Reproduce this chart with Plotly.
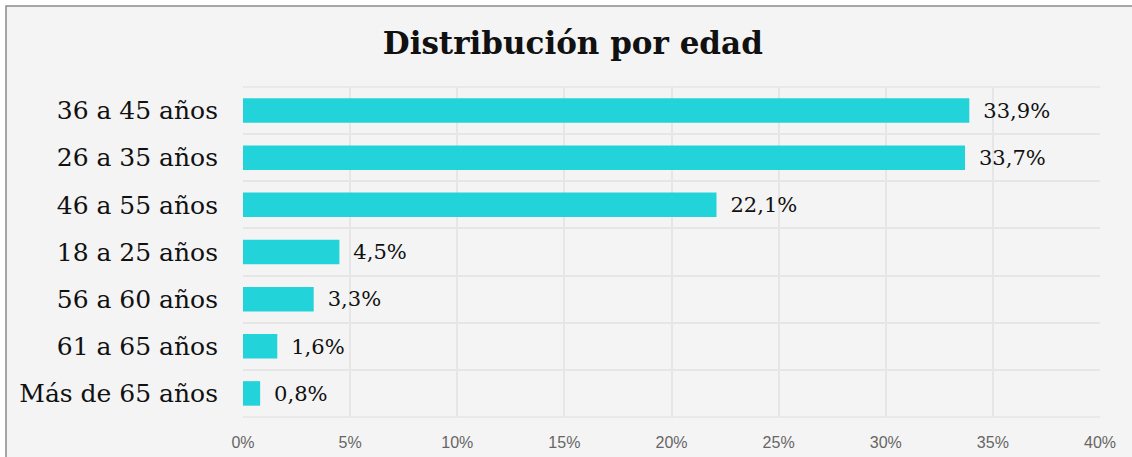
import plotly.graph_objects as go

categories = ["36 a 45 años", "26 a 35 años", "46 a 55 años", "18 a 25 años",
              "56 a 60 años", "61 a 65 años", "Más de 65 años"]
values = [33.9, 33.7, 22.1, 4.5, 3.3, 1.6, 0.8]
labels = [f"{v:.1f}%".replace(".", ",") for v in values]
tick_vals = [0, 5, 10, 15, 20, 25, 30, 35, 40]
tick_text = [f"{t}%" for t in tick_vals]

SERIF = "DejaVu Serif, serif"

fig = go.Figure(go.Bar(
    y=categories, x=values, orientation="h",
    marker=dict(color="#22d3d9", line=dict(width=0)),
    width=0.52,
    text=labels, texttemplate="\u00a0\u2009%{text}",
    textposition="outside", cliponaxis=False,
    textfont=dict(family=SERIF, size=21.5, color="#111111"),
))

W, H = 1132, 457
L, R, T, B = 243, 32, 87, 40
pw, ph = W - L - R, H - T - B

def px_to_paper_x(px):
    return (px - L) / pw

def px_to_paper_y(py):
    return (H - B - py) / ph

fig.add_shape(type="rect", xref="paper", yref="paper",
              x0=px_to_paper_x(6), x1=px_to_paper_x(W + 20),
              y0=px_to_paper_y(H + 20), y1=px_to_paper_y(6),
              fillcolor="#f4f4f4", line=dict(color="#8a8a8a", width=1.5),
              layer="below")

fig.update_layout(
    width=W, height=H,
    margin=dict(l=L, r=R, t=T, b=B, autoexpand=False),
    paper_bgcolor="white", plot_bgcolor="rgba(0,0,0,0)",
    title=dict(text="<b>Distribución por edad</b>", x=0.506, xref="container",
               xanchor="center", y=1 - 43 / H, yref="container", yanchor="middle",
               font=dict(family=SERIF, size=31, color="#111111")),
    showlegend=False,
)
fig.update_xaxes(range=[0, 40], tickvals=tick_vals, ticktext=tick_text,
                 showgrid=True, gridcolor="#e6e6e6", gridwidth=1.5,
                 zeroline=False, showline=False, automargin=False,
                 ticks="", ticklabelstandoff=14,
                 tickfont=dict(family="Liberation Sans, Arial, sans-serif", size=16, color="#666666"))
fig.update_yaxes(categoryorder="array", categoryarray=categories[::-1],
                 tickson="boundaries", showgrid=True, gridcolor="#e6e6e6", gridwidth=1.5,
                 ticks="", ticklabelstandoff=24, automargin=False,
                 showline=False, zeroline=False,
                 tickfont=dict(family=SERIF, size=25, color="#111111"))
fig.add_shape(type="line", xref="paper", yref="paper", x0=0, x1=1, y0=1, y1=1,
              line=dict(color="#e6e6e6", width=1.5), layer="below")
fig.add_shape(type="line", xref="paper", yref="paper", x0=0, x1=1, y0=0, y1=0,
              line=dict(color="#e6e6e6", width=1.5), layer="below")

fig.write_html("out.html", config={"displayModeBar": False},
               post_script="document.body.style.margin='0';")
